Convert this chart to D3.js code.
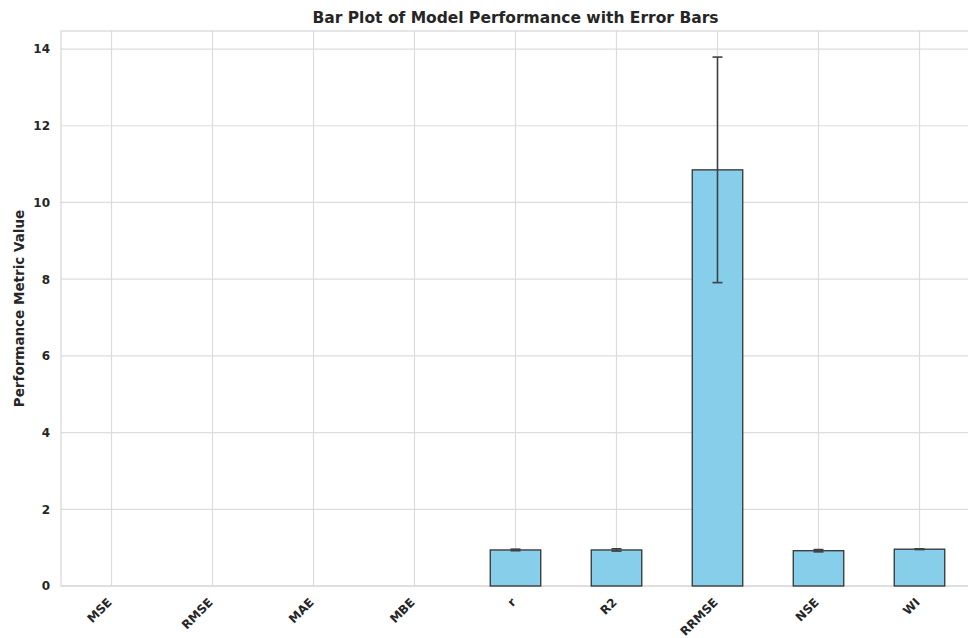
<!DOCTYPE html>
<html>
<head>
<meta charset="utf-8">
<script src="https://cdn.jsdelivr.net/npm/d3@7"></script>
<style>
  body { margin: 0; background: #fff; }
  svg text { font-family: "DejaVu Sans", sans-serif; fill: #262626; font-weight: bold; }
</style>
</head>
<body>
<div id="chart"></div>
<script>
// metrics and values (null = no bar drawn)
const metrics = ['MSE', 'RMSE', 'MAE', 'MBE', 'r', 'R2', 'RRMSE', 'NSE', 'WI'];
const means = [null, null, null, null, 0.94, 0.94, 10.85, 0.92, 0.96];
const errors = [null, null, null, null, 0.02, 0.03, 2.94, 0.03, 0.01];
const yTicks = [0, 2, 4, 6, 8, 10, 12, 14];

const W = 968, H = 638;
const margin = {t: 31, r: -2, b: 52, l: 61};
const w = W - margin.l - margin.r;
const h = H - margin.t - margin.b;

const data = metrics.map((m, i) => ({metric: m, mean: means[i], err: errors[i]}));

const svg = d3.select('#chart').append('svg')
  .attr('width', W)
  .attr('height', H);

const plot = svg.append('g')
  .attr('transform', `translate(${margin.l},${margin.t})`);

const scaleX = d3.scaleBand().domain(metrics).range([0, w]).paddingInner(0.5).paddingOuter(0.25);
const scaleY = d3.scaleLinear().domain([0, 14.47]).range([h, 0]);

// grid
plot.append('g').selectAll('line')
  .data(yTicks)
  .join('line')
  .attr('x1', 0).attr('x2', w)
  .attr('y1', d => scaleY(d)).attr('y2', d => scaleY(d))
  .attr('stroke', '#dcdcdc').attr('stroke-width', 1.2);

plot.append('g').selectAll('line')
  .data(metrics)
  .join('line')
  .attr('x1', d => scaleX(d) + scaleX.bandwidth() / 2)
  .attr('x2', d => scaleX(d) + scaleX.bandwidth() / 2)
  .attr('y1', 0).attr('y2', h)
  .attr('stroke', '#dcdcdc').attr('stroke-width', 1.2);

// frame
plot.append('rect')
  .attr('width', w).attr('height', h)
  .attr('fill', 'none')
  .attr('stroke', '#d6d6d6').attr('stroke-width', 1.2);

// bars
const shown = data.filter(d => d.mean != null);

plot.selectAll('.bar')
  .data(shown)
  .join('rect')
  .attr('class', 'bar')
  .attr('x', d => scaleX(d.metric))
  .attr('width', scaleX.bandwidth())
  .attr('y', d => scaleY(d.mean))
  .attr('height', d => scaleY(0) - scaleY(d.mean))
  .attr('fill', '#87CEEB')
  .attr('stroke', '#333333')
  .attr('stroke-width', 1.3);

// error bars
const cx = d => scaleX(d.metric) + scaleX.bandwidth() / 2;
const eb = plot.selectAll('.err')
  .data(shown)
  .join('g')
  .attr('class', 'err')
  .attr('stroke', '#404040')
  .attr('stroke-width', 1.6);

eb.append('line')
  .attr('x1', cx).attr('x2', cx)
  .attr('y1', d => scaleY(d.mean - d.err))
  .attr('y2', d => scaleY(d.mean + d.err));
eb.append('line')
  .attr('x1', d => cx(d) - 5).attr('x2', d => cx(d) + 5)
  .attr('y1', d => scaleY(d.mean + d.err))
  .attr('y2', d => scaleY(d.mean + d.err));
eb.append('line')
  .attr('x1', d => cx(d) - 5).attr('x2', d => cx(d) + 5)
  .attr('y1', d => scaleY(d.mean - d.err))
  .attr('y2', d => scaleY(d.mean - d.err));

// axes
const axisY = d3.axisLeft(scaleY).tickValues(yTicks).tickSize(0).tickPadding(11);
plot.append('g').attr('class', 'axis-y').call(axisY)
  .call(g => g.select('.domain').remove())
  .selectAll('text').style('font-size', '12px');

const axisX = d3.axisBottom(scaleX).tickSize(0);
plot.append('g').attr('class', 'axis-x')
  .attr('transform', `translate(0,${h})`)
  .call(axisX)
  .call(g => g.select('.domain').remove())
  .selectAll('text')
  .style('font-size', '12px')
  .attr('text-anchor', 'end')
  .attr('dy', null)
  .attr('transform', 'translate(-1,15) rotate(-45)');

// labels
svg.append('text')
  .attr('x', margin.l + w / 2)
  .attr('y', 23)
  .attr('text-anchor', 'middle')
  .style('font-size', '15.5px')
  .text('Bar Plot of Model Performance with Error Bars');

svg.append('text')
  .attr('transform', `translate(24,${margin.t + h / 2}) rotate(-90)`)
  .attr('text-anchor', 'middle')
  .style('font-size', '13.5px')
  .text('Performance Metric Value');
</script>
</body>
</html>
